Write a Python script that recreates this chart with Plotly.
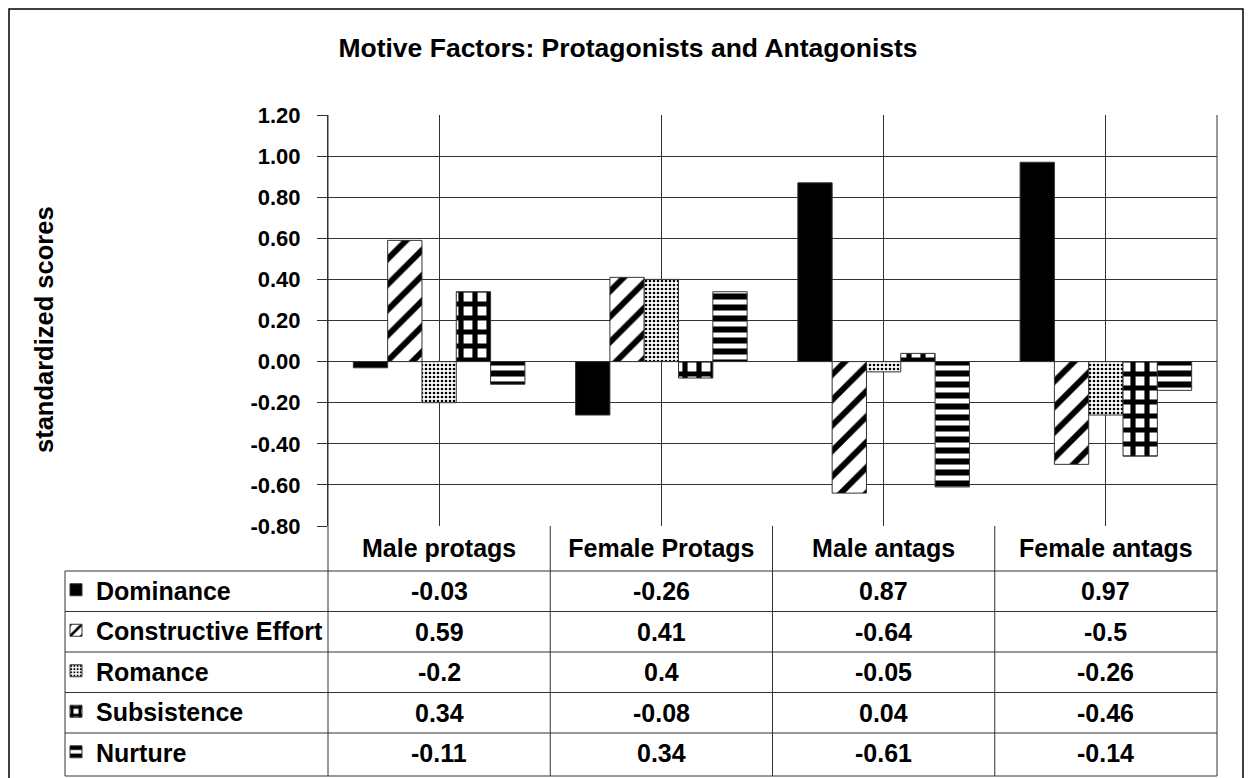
import plotly.graph_objects as go

# ---------------- data ----------------
categories = ["Male protags", "Female Protags", "Male antags", "Female antags"]
series_names = ["Dominance", "Constructive Effort", "Romance", "Subsistence", "Nurture"]
dominance = [-0.03, -0.26, 0.87, 0.97]
constructive_effort = [0.59, 0.41, -0.64, -0.5]
romance = [-0.2, 0.4, -0.05, -0.26]
subsistence = [0.34, -0.08, 0.04, -0.46]
nurture = [-0.11, 0.34, -0.61, -0.14]
y_ticks = [-0.8, -0.6, -0.4, -0.2, 0.0, 0.2, 0.4, 0.6, 0.8, 1.0, 1.2]
y_tick_labels = ["-0.80", "-0.60", "-0.40", "-0.20", "0.00", "0.20", "0.40",
                 "0.60", "0.80", "1.00", "1.20"]
title_text = "Motive Factors: Protagonists and Antagonists"
y_title = "standardized scores"

series_values = [dominance, constructive_effort, romance, subsistence, nurture]

# ---------------- layout helpers ----------------
W, H = 1252, 778
OFF = 8  # page body margin offset
def px(x):
    return (x - OFF) / W
def py(y):
    return 1 - (y - OFF) / H

PL, PR, PT, PB = 328, 1217, 115, 526      # plot area (page pixels)
TAB_L = 65                                # legend column left edge
HEAD_B = 571                              # bottom of header row
ROW_H = 40.5
TAB_B = 776
FONT = "Liberation Sans, Arial, sans-serif"

patterns = [
    dict(shape=""),
    dict(shape="/", size=18, solidity=0.33, fgcolor="black", bgcolor="white", fillmode="replace"),
    dict(shape=".", size=4, solidity=0.35, fgcolor="black", bgcolor="white", fillmode="replace"),
    dict(shape="+", size=14, solidity=0.6, fgcolor="black", bgcolor="white", fillmode="replace"),
    dict(shape="-", size=11, solidity=0.55, fgcolor="black", bgcolor="white", fillmode="replace"),
]
colors = ["black", "white", "white", "white", "white"]

fig = go.Figure()
for name, vals, pat, col in zip(series_names, series_values, patterns, colors):
    fig.add_trace(go.Bar(
        x=list(range(len(categories))), y=vals, name=name, legendgroup=name,
        marker=dict(color=col, pattern=pat, line=dict(color="#333333", width=1)),
    ))

# ---------------- table grid ----------------
line = dict(color="#333333", width=1)
shapes = []
row_lines = [HEAD_B + ROW_H * k for k in range(5)] + [TAB_B]
for yy in row_lines:
    shapes.append(dict(type="line", xref="paper", yref="paper",
                       x0=px(TAB_L), x1=px(PR), y0=py(yy), y1=py(yy), line=line))
col_w = (PR - PL) / len(categories)
shapes.append(dict(type="line", xref="paper", yref="paper",
                   x0=px(TAB_L), x1=px(TAB_L), y0=py(HEAD_B), y1=py(TAB_B), line=line))
for k in range(len(categories) + 1):
    xx = PL + col_w * k
    shapes.append(dict(type="line", xref="paper", yref="paper",
                       x0=px(xx), x1=px(xx), y0=py(PT if k in (0, len(categories)) else PB),
                       y1=py(TAB_B), line=line))
# outer chart border
shapes.append(dict(type="rect", xref="paper", yref="paper",
                   x0=px(9), x1=px(1243), y0=py(9), y1=-0.05,
                   line=dict(color="black", width=1.5), fillcolor="rgba(0,0,0,0)"))

# ---------------- table values ----------------
annotations = []
for i, vals in enumerate(series_values):
    yc = HEAD_B + ROW_H * (i + 0.5)
    for j, v in enumerate(vals):
        annotations.append(dict(x=j, xref="x", y=py(yc), yref="paper", text=str(v),
                                showarrow=False, xanchor="center", yanchor="middle",
                                font=dict(family=FONT, size=25, color="black", weight="bold")))
annotations.append(dict(x=px(44), y=py(330), xref="paper", yref="paper", text=y_title,
                        textangle=-90, showarrow=False, xanchor="center", yanchor="middle",
                        font=dict(family=FONT, size=25.5, color="black", weight="bold")))

fig.update_layout(
    width=W, height=H,
    margin=dict(l=0, r=0, t=0, b=0, autoexpand=False),
    paper_bgcolor="white", plot_bgcolor="white",
    barmode="group", bargap=0.228, bargroupgap=0,
    title=dict(text=title_text, x=px(628), y=py(48), xanchor="center", yanchor="middle",
               font=dict(family=FONT, size=26.5, color="black", weight="bold")),
    font=dict(family=FONT, color="black"),
    xaxis=dict(domain=[px(PL), px(PR)], tickmode="array",
               tickvals=list(range(len(categories))), ticktext=categories,
               range=[-0.5, len(categories) - 0.5],
               showgrid=True, gridcolor="#333333", gridwidth=1, tickson="boundaries",
               ticks="", showline=False, zeroline=False, ticklabelstandoff=5,
               automargin=False,
               tickfont=dict(family=FONT, size=25, color="black", weight="bold")),
    yaxis=dict(domain=[py(PB), py(PT)], range=[-0.8, 1.2], tickmode="array",
               tickvals=y_ticks, ticktext=y_tick_labels,
               showgrid=True, gridcolor="#333333", gridwidth=1,
               zeroline=False, showline=True, linecolor="#333333", linewidth=1,
               ticks="outside", ticklen=10, tickcolor="#333333", ticklabelstandoff=12,
               automargin=False,
               tickfont=dict(family=FONT, size=22, color="black", weight="bold")),
    legend=dict(x=px(56), y=py(567), xanchor="left", yanchor="top",
                traceorder="grouped", tracegroupgap=5, bgcolor="rgba(0,0,0,0)",
                font=dict(family=FONT, size=25, color="black", weight="bold")),
    shapes=shapes, annotations=annotations,
)

fig.write_html("out.html")
